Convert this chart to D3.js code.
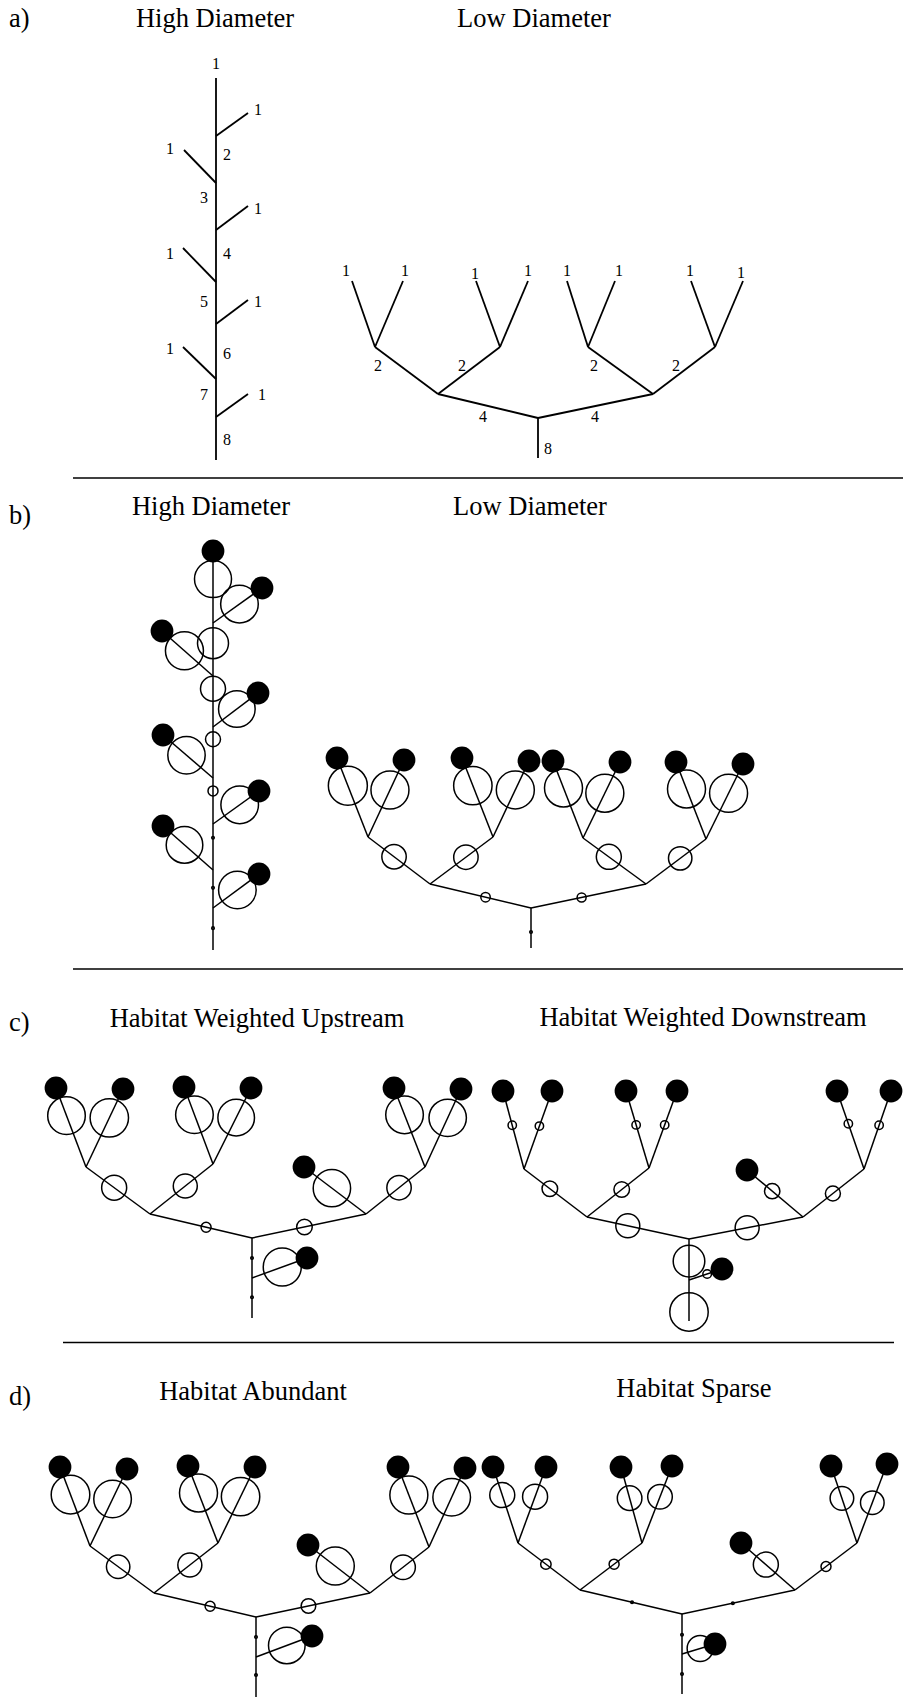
<!DOCTYPE html>
<html>
<head>
<meta charset="utf-8">
<script src="https://cdn.jsdelivr.net/npm/d3@7"></script>
<style>
  body { margin: 0; background: #fff; }
  svg { display: block; background: #fff; }
  text { font-family: "Liberation Serif", "Times New Roman", serif; fill: #000; }
  .title { font-size: 26.5px; }
  .num { font-size: 16px; }
  .edge { stroke: #000; fill: none; stroke-linecap: butt; }
  .ring { stroke: #000; stroke-width: 1.5; fill: none; }
  .leaf { fill: #000; }
  .rule { stroke: #000; stroke-width: 1.3; }
</style>
</head>
<body>
<div id="fig"></div>
<script>
// a) stream order trees
// rows: id, parent, x offset, height above outlet, label x, label y
const aHighNodes = [
  ["base", null, 0, 0, 0, 0],
  ["j1", "base", 0, 43, 11, 21],
  ["j2", "j1", 0, 81, -12, 66],
  ["j3", "j2", 0, 136, 11, 107],
  ["j4", "j3", 0, 178, -12, 159],
  ["j5", "j4", 0, 230, 11, 207],
  ["j6", "j5", 0, 277, -12, 263],
  ["j7", "j6", 0, 324, 11, 306],
  ["top", "j7", 0, 382, 0, 397],
  ["r1", "j7", 32, 347, 42, 351],
  ["l1", "j6", -32, 310, -46, 312],
  ["r2", "j5", 32, 254, 42, 252],
  ["l2", "j4", -33, 212, -46, 207],
  ["r3", "j3", 32, 160, 42, 159],
  ["l3", "j2", -33, 113, -46, 112],
  ["r4", "j1", 32, 66, 46, 66]
];
const aLowNodes = [
  ["base", null, 0, 0, 0, 0],
  ["r0", "base", 0, 40, 10, 10],
  ["L", "r0", -100, 64, -55, 42],
  ["R", "r0", 115, 64, 57, 42],
  ["LL", "L", -163, 111, -160, 93],
  ["LR", "L", -38, 111, -76, 93],
  ["RL", "R", 50, 111, 56, 93],
  ["RR", "R", 177, 111, 138, 93],
  ["LLa", "LL", -186, 177, -192, 188],
  ["LLb", "LL", -135, 177, -133, 188],
  ["LRa", "LR", -62, 177, -63, 185],
  ["LRb", "LR", -10, 177, -10, 188],
  ["RLa", "RL", 29, 177, 29, 188],
  ["RLb", "RL", 77, 177, 81, 188],
  ["RRa", "RR", 153, 177, 152, 188],
  ["RRb", "RR", 205, 177, 203, 186]
];

// b) - d) weighted trees
// rows: id, parent, x offset, height, ring position along edge (0 = upstream end), ring radius
const bHighNodes = [
  ["base", null, 0, 0, 0, 0],
  ["j1", "base", 0, 42, 0.48, 1.3],
  ["j2", "j1", 0, 80, 0.47, 1.3],
  ["j3", "j2", 0, 126, 0.30, 1.3],
  ["j4", "j3", 0, 172, 0.28, 5],
  ["j5", "j4", 0, 223, 0.24, 7.5],
  ["j6", "j5", 0, 274, 0.25, 12.5],
  ["j7", "j6", 0, 327, 0.38, 15.5],
  ["top", "j7", 0, 399, 0.39, 18.5],
  ["r1", "j7", 49, 362, 0.46, 18.8],
  ["l1", "j6", -51, 319, 0.44, 19],
  ["r2", "j5", 45, 257, 0.47, 18.3],
  ["l2", "j4", -50, 215, 0.47, 18.7],
  ["r3", "j3", 46, 159, 0.42, 18.8],
  ["l3", "j2", -50, 124, 0.43, 18.3],
  ["r4", "j1", 46, 76, 0.47, 18.8]
];
const bLowNodes = [
  ["base", null, 0, 0, 0, 0],
  ["r0", "base", 0, 40, 0.6, 1.3],
  ["L", "r0", -101, 64, 0.55, 4.7],
  ["R", "r0", 115, 64, 0.56, 4.5],
  ["LL", "L", -163, 111, 0.42, 12.2],
  ["LR", "L", -38, 111, 0.43, 12.2],
  ["RL", "R", 52, 110, 0.41, 12.5],
  ["RR", "R", 175, 109, 0.43, 11.7],
  ["LLa", "LL", -194, 190, 0.35, 19.5],
  ["LLb", "LL", -127, 188, 0.39, 19],
  ["LRa", "LR", -69, 190, 0.35, 19.2],
  ["LRb", "LR", -2, 187, 0.38, 19],
  ["RLa", "RL", 22, 187, 0.35, 19],
  ["RLb", "RL", 89, 186, 0.41, 19],
  ["RRa", "RR", 145, 186, 0.35, 19],
  ["RRb", "RR", 212, 184, 0.39, 19]
];
const cUpNodes = [
  ["base", null, 0, 0, 0, 0],
  ["s", "base", 0, 40, 0.48, 1.3],
  ["r0", "s", 0, 80, 0.5, 1.3],
  ["side", "s", 55, 60, 0.45, 19],
  ["L", "r0", -102, 104, 0.55, 5],
  ["R", "r0", 114, 104, 0.54, 7.8],
  ["Rside", "R", 52, 151, 0.45, 18.7],
  ["LL", "L", -166, 151, 0.44, 12.5],
  ["LR", "L", -39, 154, 0.44, 12],
  ["RR", "R", 173, 151, 0.44, 12.2],
  ["LLa", "LL", -196, 230, 0.35, 18.8],
  ["LLb", "LL", -129, 229, 0.37, 19.2],
  ["LRa", "LR", -68, 231, 0.36, 18.8],
  ["LRb", "LR", -1, 230, 0.39, 18.3],
  ["RRa", "RR", 142, 230, 0.34, 18.8],
  ["RRb", "RR", 209, 229, 0.37, 18.7]
];
const cDownNodes = [
  ["base", null, 0, 0, 0, 0],
  ["s", "base", 0, 41, 0.78, 19.2],
  ["r0", "s", 0, 82, 0.54, 15.8],
  ["side", "s", 33, 52, 0.45, 4.3],
  ["L", "r0", -102, 104, 0.40, 12],
  ["R", "r0", 114, 104, 0.49, 12],
  ["Rside", "R", 58, 151, 0.45, 7.7],
  ["LL", "L", -165, 152, 0.41, 7.8],
  ["LR", "L", -40, 153, 0.44, 7.8],
  ["RR", "R", 175, 152, 0.51, 7.5],
  ["LLa", "LL", -186, 230, 0.44, 4.2],
  ["LLb", "LL", -137, 230, 0.45, 4.2],
  ["LRa", "LR", -63, 230, 0.44, 4.2],
  ["LRb", "LR", -12, 230, 0.44, 4.2],
  ["RRa", "RR", 148, 230, 0.42, 4.2],
  ["RRb", "RR", 202, 230, 0.44, 4.2]
];
const dAbundantNodes = [
  ["base", null, 0, 0, 0, 0],
  ["s", "base", 0, 40, 0.45, 1.3],
  ["r0", "s", 0, 80, 0.5, 1.3],
  ["side", "s", 56, 61, 0.45, 18.3],
  ["L", "r0", -102, 104, 0.55, 5],
  ["R", "r0", 114, 104, 0.54, 7.3],
  ["Rside", "R", 52, 152, 0.44, 19],
  ["LL", "L", -166, 151, 0.44, 11.7],
  ["LR", "L", -38, 154, 0.44, 12],
  ["RR", "R", 173, 150, 0.44, 12.3],
  ["LLa", "LL", -196, 230, 0.35, 19.3],
  ["LLb", "LL", -129, 228, 0.39, 18.8],
  ["LRa", "LR", -68, 231, 0.35, 19],
  ["LRb", "LR", -1, 230, 0.39, 19.2],
  ["RRa", "RR", 142, 230, 0.35, 19],
  ["RRb", "RR", 209, 229, 0.37, 18.8]
];
const dSparseNodes = [
  ["base", null, 0, 0, 0, 0],
  ["s", "base", 0, 40, 0.5, 1.3],
  ["r0", "s", 0, 80, 0.52, 1.3],
  ["side", "s", 33, 50, 0.45, 13],
  ["L", "r0", -102, 104, 0.51, 1.3],
  ["R", "r0", 113, 104, 0.55, 1.3],
  ["Rside", "R", 59, 151, 0.46, 12.5],
  ["LL", "L", -164, 151, 0.45, 5.2],
  ["LR", "L", -40, 151, 0.45, 5],
  ["RR", "R", 175, 151, 0.5, 5],
  ["LLa", "LL", -189, 227, 0.37, 12.5],
  ["LLb", "LL", -136, 227, 0.39, 12.5],
  ["LRa", "LR", -61, 227, 0.41, 12.3],
  ["LRb", "LR", -10, 228, 0.40, 12.3],
  ["RRa", "RR", 149, 228, 0.42, 11.8],
  ["RRb", "RR", 205, 230, 0.49, 11.8]
];

const panelLetters = ["a)", "b)", "c)", "d)"];
const panelTitles = [
  ["High Diameter", "Low Diameter"],
  ["High Diameter", "Low Diameter"],
  ["Habitat Weighted Upstream", "Habitat Weighted Downstream"],
  ["Habitat Abundant", "Habitat Sparse"]
];

const width = 903, height = 1705;
const leafRadius = 11.4;

// layout of the figure
const letterY = [27, 524, 1031, 1405];
const titlePos = [
  [[215, 27], [534, 27]],
  [[211, 515], [530, 515]],
  [[257, 1027], [703, 1026]],
  [[253, 1400], [694, 1397]]
];
const rules = [[73, 903, 478], [73, 903, 969], [63, 894, 1342.5]];

const trees = [
  { nodes: aHighNodes, ox: 216, oy: 460, numbered: true },
  { nodes: aLowNodes, ox: 538, oy: 458, numbered: true },
  { nodes: bHighNodes, ox: 213, oy: 950 },
  { nodes: bLowNodes, ox: 531, oy: 948 },
  { nodes: cUpNodes, ox: 252, oy: 1318 },
  { nodes: cDownNodes, ox: 689, oy: 1321 },
  { nodes: dAbundantNodes, ox: 256, oy: 1697 },
  { nodes: dSparseNodes, ox: 682, oy: 1694 }
];

const svg = d3.select("#fig")
  .append("svg")
    .attr("width", width)
    .attr("height", height)
    .attr("viewBox", `0 0 ${width} ${height}`);

// panel letters and titles
svg.selectAll("text.letter")
  .data(panelLetters)
  .join("text")
    .attr("class", "title letter")
    .attr("x", 9)
    .attr("y", (d, i) => letterY[i])
    .text(d => d);

panelTitles.forEach((pair, i) => {
  svg.selectAll(null)
    .data(pair)
    .join("text")
      .attr("class", "title")
      .attr("text-anchor", "middle")
      .attr("x", (d, j) => titlePos[i][j][0])
      .attr("y", (d, j) => titlePos[i][j][1])
      .text(d => d);
});

// separators
svg.selectAll("line.rule")
  .data(rules)
  .join("line")
    .attr("class", "rule")
    .attr("x1", d => d[0])
    .attr("x2", d => d[1])
    .attr("y1", d => d[2])
    .attr("y2", d => d[2]);

// TREES
trees.forEach(t => {
  const x = d3.scaleLinear().domain([-250, 250]).range([t.ox - 250, t.ox + 250]);
  const y = d3.scaleLinear().domain([0, 400]).range([t.oy, t.oy - 400]);

  const root = d3.stratify()
    .id(d => d[0])
    .parentId(d => d[1])(t.nodes);
  root.count(); // number of upstream tips per reach

  const g = svg.append("g");

  g.selectAll("line.edge")
    .data(root.links())
    .join("line")
      .attr("class", "edge")
      .attr("stroke-width", t.numbered ? 1.8 : 1.5)
      .attr("x1", d => x(d.source.data[2]))
      .attr("y1", d => y(d.source.data[3]))
      .attr("x2", d => x(d.target.data[2]))
      .attr("y2", d => y(d.target.data[3]));

  const reaches = root.descendants().filter(d => d.parent);

  if (t.numbered) {
    // reach labels = count of tips upstream
    g.selectAll("text.num")
      .data(reaches)
      .join("text")
        .attr("class", "num")
        .attr("text-anchor", "middle")
        .attr("dy", "0.35em")
        .attr("x", d => x(d.data[4]))
        .attr("y", d => y(d.data[5]))
        .text(d => d.value);
    return;
  }

  // open circles sit on the reach, sized by weight
  g.selectAll("circle.ring")
    .data(reaches.filter(d => d.data[5] > 0))
    .join("circle")
      .attr("class", "ring")
      .attr("cx", d => {
        const p = d.parent.data, c = d.data;
        return x(c[2] + c[4] * (p[2] - c[2]));
      })
      .attr("cy", d => {
        const p = d.parent.data, c = d.data;
        return y(c[3] + c[4] * (p[3] - c[3]));
      })
      .attr("r", d => d.data[5])
      .attr("stroke-width", d => d.data[5] < 2 ? 1.2 : 1.5);

  // filled circles at tips
  g.selectAll("circle.leaf")
    .data(root.leaves())
    .join("circle")
      .attr("class", "leaf")
      .attr("cx", d => x(d.data[2]))
      .attr("cy", d => y(d.data[3]))
      .attr("r", leafRadius);
});
</script>
</body>
</html>
